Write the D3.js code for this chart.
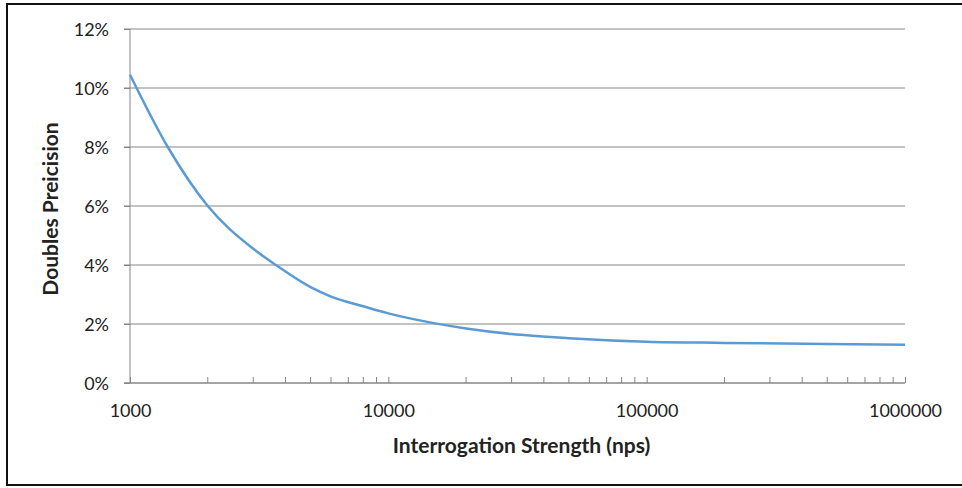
<!DOCTYPE html>
<html>
<head>
<meta charset="utf-8">
<script src="https://cdn.jsdelivr.net/npm/d3@7"></script>
<style>
  body { margin: 0; background: #fff; }
  svg text { font-family: Lato, "Open Sans", sans-serif; fill: #222; }
</style>
</head>
<body>
<div id="chart"></div>
<script>
// Data
const strength = [1000, 1400, 2000, 3000, 3670, 5000, 6000, 8000, 10000, 15000, 20000, 30000, 50000, 100000, 200000, 500000, 1000000];
const precision = [10.45, 8.0, 6.0, 4.55, 4.0, 3.25, 2.93, 2.6, 2.36, 2.03, 1.85, 1.66, 1.52, 1.40, 1.36, 1.32, 1.30];
const yTicks = [0, 2, 4, 6, 8, 10, 12];
const xTicks = [1000, 10000, 100000, 1000000];

const data = strength.map((s, i) => ({x: s, y: precision[i]}));

const margin = {top: 29, right: 57, bottom: 105, left: 130},
    width = 962 - margin.left - margin.right,
    height = 488 - margin.top - margin.bottom;

const root = d3.select("#chart")
    .append("svg")
    .attr("width", 962)
    .attr("height", 488);

// Outer frame (right edge runs off the picture)
root.append("rect")
    .attr("x", 7)
    .attr("y", 4)
    .attr("width", 1000)
    .attr("height", 481)
    .attr("fill", "none")
    .attr("stroke", "#111")
    .attr("stroke-width", 2);

const svg = root.append("g")
    .attr("transform", `translate(${margin.left},${margin.top})`);

const x = d3.scaleLog()
    .domain([1000, 1000000])
    .range([0, width]);

const y = d3.scaleLinear()
    .domain([0, 12])
    .range([height, 0]);

// Gridlines
svg.append("g")
    .selectAll("line")
    .data(yTicks.filter(d => d > 0))
    .enter().append("line")
    .attr("x1", -6)
    .attr("x2", width)
    .attr("y1", d => y(d))
    .attr("y2", d => y(d))
    .attr("stroke", "#868686")
    .attr("stroke-width", 1);

// Y axis
const yAxis = svg.append("g")
    .call(d3.axisLeft(y).tickValues(yTicks).tickSize(6).tickFormat(d => d + "%"));
yAxis.selectAll("line").attr("stroke", "#868686");
yAxis.select(".domain").attr("stroke", "#868686").attr("d", `M0,${height}V0`);
yAxis.selectAll("text")
    .attr("x", -21)
    .attr("dy", "0.35em")
    .style("font-size", "18px");

// X axis with minor ticks pointing up
const minor = x.ticks().filter(d => !xTicks.includes(d));
svg.append("g")
    .attr("transform", `translate(0,${height})`)
    .selectAll("line")
    .data(minor)
    .enter().append("line")
    .attr("x1", d => x(d))
    .attr("x2", d => x(d))
    .attr("y1", 0)
    .attr("y2", -6)
    .attr("stroke", "#868686");

const xAxis = svg.append("g")
    .attr("transform", `translate(0,${height})`)
    .call(d3.axisBottom(x).tickValues(xTicks).tickSize(-6).tickFormat(d3.format("d")));
xAxis.selectAll("line").attr("stroke", "#868686");
xAxis.select(".domain").attr("stroke", "#868686").attr("stroke-width", 1.5).attr("d", `M-6,0H${width}`);
xAxis.selectAll("text")
    .attr("y", 21)
    .style("font-size", "18px");

// Axis titles
svg.append("text")
    .attr("text-anchor", "middle")
    .attr("x", width / 2 + 4)
    .attr("y", height + 70)
    .style("font-size", "21px")
    .style("font-weight", "bold")
    .text("Interrogation Strength (nps)");

svg.append("text")
    .attr("text-anchor", "middle")
    .attr("transform", `translate(-72,${height / 2 + 3}) rotate(-90)`)
    .style("font-size", "21px")
    .style("font-weight", "bold")
    .text("Doubles Preicision");

// Curve
const line = d3.line()
    .x(d => x(d.x))
    .y(d => y(d.y))
    .curve(d3.curveMonotoneX);

svg.append("path")
    .datum(data)
    .attr("fill", "none")
    .attr("stroke", "#5b9bd5")
    .attr("stroke-width", 2.5)
    .attr("d", line);
</script>
</body>
</html>
